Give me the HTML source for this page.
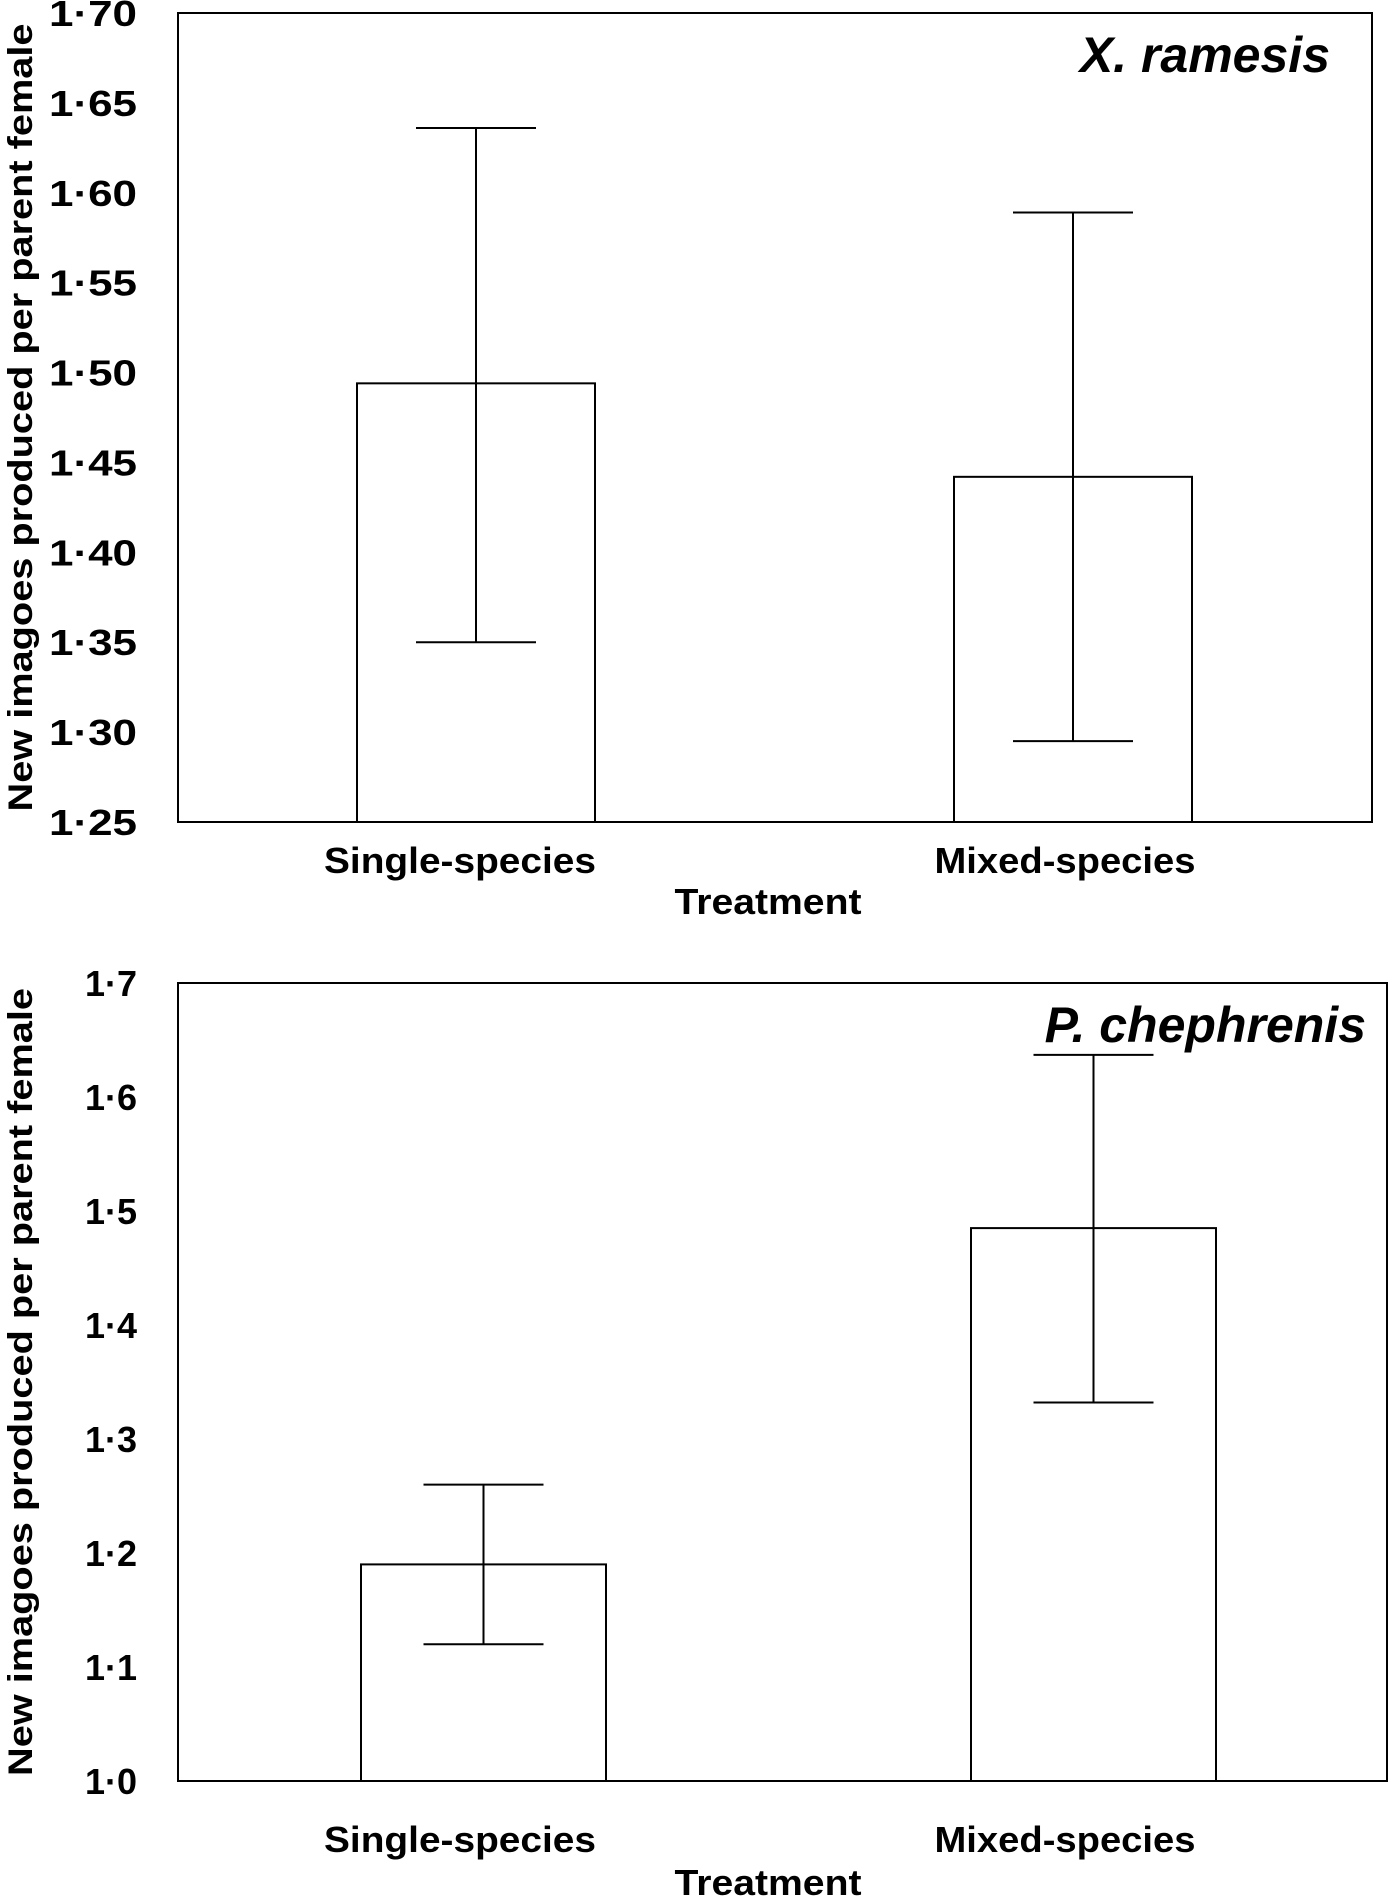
<!DOCTYPE html>
<html><head><meta charset="utf-8"><style>
html,body{margin:0;padding:0;background:#fff;}
svg{display:block;font-family:"Liberation Sans",Arial,sans-serif;font-weight:bold;}
</style></head><body>
<svg id="fig" width="1400" height="1898" viewBox="0 0 1400 1898"></svg>
<script>
const categories = ["Single-species","Mixed-species"];
const topMeans = [1.494, 1.442];
const topLow = [1.350, 1.295];
const topHigh = [1.636, 1.589];
const topTicks = ["1·25","1·30","1·35","1·40","1·45","1·50","1·55","1·60","1·65","1·70"];
const topTickVals = [1.25,1.30,1.35,1.40,1.45,1.50,1.55,1.60,1.65,1.70];
const botMeans = [1.19, 1.485];
const botLow = [1.12, 1.332];
const botHigh = [1.26, 1.637];
const botTicks = ["1·0","1·1","1·2","1·3","1·4","1·5","1·6","1·7"];
const botTickVals = [1.0,1.1,1.2,1.3,1.4,1.5,1.6,1.7];

const NS="http://www.w3.org/2000/svg";
const svg=document.getElementById('fig');
function mk(tag,attrs,parent){const e=document.createElementNS(NS,tag);for(const k in attrs)e.setAttribute(k,attrs[k]);(parent||svg).appendChild(e);return e;}

function panel(cfg){
  const g=mk('g',{});
  
  
  const y=v=>cfg.bottom-(v-cfg.min)/(cfg.max-cfg.min)*(cfg.bottom-cfg.top);
  const frame=mk('rect',{x:cfg.left,y:cfg.top,width:cfg.right-cfg.left,height:cfg.bottom-cfg.top,fill:'none',stroke:'#000','stroke-width':2},g);
  
  
  cfg.tickVals.forEach((v,i)=>{
    const attrs={x:137,y:y(v)+13,'text-anchor':'end','font-size':36};
    if(cfg.tickLen){attrs.textLength=cfg.tickLen;attrs.lengthAdjust='spacingAndGlyphs';}
    const t=mk('text',attrs,g);
    t.textContent=cfg.ticks[i];
    
    
  });
  cfg.means.forEach((m,i)=>{
    const bx=cfg.barX[i], bw=cfg.barW;
    const cx=bx+bw/2;
    const bar=mk('rect',{x:bx,y:y(m),width:bw,height:cfg.bottom-y(m),fill:'#fff',stroke:'#000','stroke-width':2},g);
    
    
    const eg=mk('g',{stroke:'#000','stroke-width':2},g);
    
    
    mk('line',{x1:cx,x2:cx,y1:y(cfg.low[i]),y2:y(cfg.high[i])},eg);
    mk('line',{x1:cx-cfg.cap,x2:cx+cfg.cap,y1:y(cfg.low[i]),y2:y(cfg.low[i])},eg);
    mk('line',{x1:cx-cfg.cap,x2:cx+cfg.cap,y1:y(cfg.high[i]),y2:y(cfg.high[i])},eg);
    const lab=mk('text',{x:cfg.labX[i],y:cfg.labY,'text-anchor':'middle','font-size':36,textLength:[272,261][i],lengthAdjust:'spacingAndGlyphs'},g);
    lab.textContent=categories[i];
    
    
  });
  const xt=mk('text',{x:768,y:cfg.xtY,'text-anchor':'middle','font-size':36,textLength:187,lengthAdjust:'spacingAndGlyphs'},g);
  xt.textContent='Treatment';
  
  
  const cy=(cfg.top+cfg.bottom)/2;
  const yt=mk('text',{x:0,y:0,'text-anchor':'middle','font-size':34,textLength:788,lengthAdjust:'spacingAndGlyphs',transform:'translate(32,'+cy+') rotate(-90)'},g);
  yt.textContent='New imagoes produced per parent female';
  
  
  const sp=mk('text',{x:cfg.spX,y:cfg.spY,'text-anchor':'end','font-size':50,'font-style':'italic'},g);
  sp.textContent=cfg.species;
  
  
}

panel({name:'panel-x-ramesis',left:178,right:1372,top:13,bottom:822,min:1.25,max:1.70,
  ticks:topTicks,tickVals:topTickVals,means:topMeans,low:topLow,high:topHigh,tickLen:88,
  barX:[357,954],barW:238,cap:60,labX:[460,1065],labY:873,xtY:914,
  species:'X. ramesis',spX:1330,spY:72});
panel({name:'panel-p-chephrenis',left:178,right:1387,top:983,bottom:1781,min:1.0,max:1.7,
  ticks:botTicks,tickVals:botTickVals,means:botMeans,low:botLow,high:botHigh,tickLen:0,
  barX:[361,971],barW:245,cap:60,labX:[460,1065],labY:1852,xtY:1895,
  species:'P. chephrenis',spX:1366,spY:1042});
</script>
</body></html>
